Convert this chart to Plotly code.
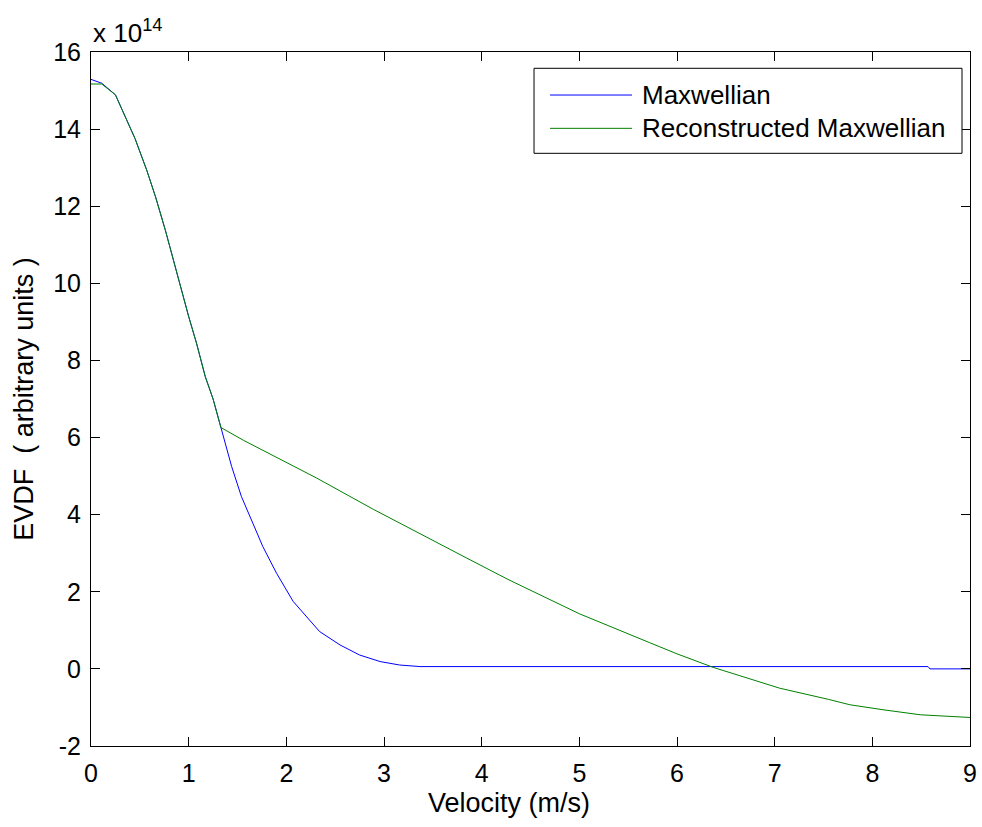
import plotly.graph_objects as go

# Velocity samples (m/s) and EVDF values in units of 1e14
v_max = [0.0, 0.11, 0.25, 0.38, 0.45, 0.57, 0.66, 0.76, 0.86, 1.0, 1.08, 1.17, 1.25, 1.33,
         1.44, 1.54, 1.66, 1.76, 1.90, 2.07, 2.34, 2.55, 2.75, 2.96, 3.16, 3.37, 8.57, 8.59, 9.0]
f_max = [15.29, 15.19, 14.89, 14.15, 13.76, 12.94, 12.25, 11.39, 10.43, 9.14, 8.45, 7.58, 7.0, 6.26,
         5.25, 4.47, 3.75, 3.17, 2.48, 1.75, 0.97, 0.62, 0.36, 0.19, 0.10, 0.06, 0.06, 0.0, 0.0]

v_rec = [0.0, 0.11, 0.25, 0.38, 0.45, 0.57, 0.66, 0.76, 0.86, 1.0, 1.08, 1.17, 1.25, 1.33,
         1.56, 2.04, 2.31, 2.89, 3.44, 3.85, 4.27, 4.70, 5.0, 5.72, 6.0, 6.37, 6.75, 7.05, 7.55,
         7.77, 8.11, 8.49, 9.0]
f_rec = [15.17, 15.17, 14.89, 14.15, 13.76, 12.94, 12.25, 11.39, 10.43, 9.14, 8.45, 7.58, 7.0, 6.26,
         5.93, 5.30, 4.95, 4.14, 3.40, 2.87, 2.32, 1.80, 1.43, 0.68, 0.39, 0.04, -0.27, -0.50, -0.79,
         -0.93, -1.06, -1.19, -1.26]

series_names = ["Maxwellian", "Reconstructed Maxwellian"]
series_colors = ["#0000ff", "#008000"]

x_ticks = list(range(0, 10))
y_ticks = list(range(-2, 17, 2))

FONT = "Arial, Liberation Sans, Helvetica, sans-serif"
TICK_SIZE = 25
TEXT_SIZE = 26
TITLE_SIZE = 27

fig = go.Figure()
for xs, ys, name, color in zip([v_max, v_rec], [f_max, f_rec], series_names, series_colors):
    fig.add_trace(go.Scatter(x=xs, y=ys, mode="lines", name=name, showlegend=False,
                             line=dict(color=color, width=1)))

axis_common = dict(
    showline=True, linecolor="black", linewidth=1, mirror="ticks",
    ticks="inside", ticklen=9, tickwidth=1, tickcolor="black",
    showgrid=False, zeroline=False, automargin=False,
    tickfont=dict(family=FONT, size=TICK_SIZE, color="black"),
)

fig.update_xaxes(range=[0, 9], tickvals=x_ticks, ticktext=[str(t) for t in x_ticks],
                 ticklabelstandoff=5, **axis_common)
fig.update_yaxes(range=[-2, 16], tickvals=y_ticks, ticktext=[str(t) for t in y_ticks],
                 title=dict(text="EVDF  ( arbitrary units )",
                            font=dict(family=FONT, size=TITLE_SIZE, color="black"), standoff=11),
                 ticklabelstandoff=4, **axis_common)

# x-axis label
fig.add_annotation(x=0.475, y=0, xref="paper", yref="paper", xanchor="center", yanchor="middle",
                   yshift=-57, showarrow=False, text="Velocity (m/s)",
                   font=dict(family=FONT, size=TITLE_SIZE, color="black"))

# exponent multiplier above the y axis
fig.add_annotation(x=0, y=1, xref="paper", yref="paper", xanchor="left", yanchor="bottom",
                   yshift=2, showarrow=False, text="x 10<sup>14</sup>",
                   font=dict(family=FONT, size=TEXT_SIZE, color="black"))

# legend box with line samples and labels
fig.add_shape(type="rect", xref="paper", yref="paper", x0=0.504, x1=0.9909, y0=0.854, y1=0.9765,
              line=dict(color="black", width=1), fillcolor="white", layer="above")
legend_rows_y = [0.938, 0.890]
for name, color, ry in zip(series_names, series_colors, legend_rows_y):
    fig.add_shape(type="line", xref="paper", yref="paper", x0=0.5222, x1=0.6155, y0=ry, y1=ry,
                  line=dict(color=color, width=1), layer="above")
    fig.add_annotation(x=0.6245, y=ry, xref="paper", yref="paper", xanchor="left",
                       yanchor="middle", showarrow=False, text=name,
                       font=dict(family=FONT, size=TEXT_SIZE, color="black"))

fig.update_layout(
    width=982, height=827,
    margin=dict(l=91, r=12, t=52, b=81),
    paper_bgcolor="white", plot_bgcolor="white",
    showlegend=False,
)

fig.write_html("out.html")
